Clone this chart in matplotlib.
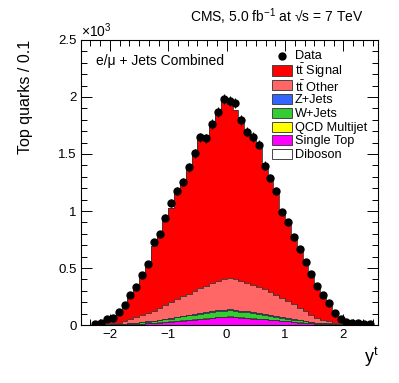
import matplotlib
matplotlib.use("Agg")
import matplotlib.pyplot as plt
from matplotlib.patches import Rectangle
from matplotlib.ticker import MultipleLocator, FuncFormatter
import numpy as np

plt.rcParams['font.family'] = ['Liberation Sans', 'DejaVu Sans']
plt.rcParams['mathtext.fontset'] = 'custom'
plt.rcParams['mathtext.rm'] = 'Liberation Sans'
plt.rcParams['mathtext.it'] = 'Liberation Sans:italic'

# top-quark rapidity, 50 bins of 0.1 from -2.5 to 2.5
edges = np.linspace(-2.5, 2.5, 51)
centers = 0.5 * (edges[1:] + edges[:-1])

data = [0, 0, 12, 15, 50, 62, 115, 175, 260, 335,
        437, 533, 728, 795, 940, 1071, 1173, 1252, 1383, 1505,
        1645, 1636, 1761, 1869, 1980, 1965, 1948, 1799, 1697, 1650,
        1581, 1397, 1290, 1179, 990, 902, 771, 670, 550, 451,
        340, 265, 195, 108, 50, 29, 20, 14, 9, 6]

tt_signal = [0, 0, 0, 1, 15, 30, 63, 125, 193, 262,
             345, 435, 565, 650, 745, 830, 930, 1015, 1115, 1200,
             1315, 1315, 1415, 1465, 1560, 1530, 1485, 1410, 1330, 1280,
             1225, 1085, 990, 885, 770, 680, 590, 510, 420, 350,
             275, 205, 138, 80, 35, 15, 3, 0, 0, 0]

tt_other = [0, 0, 0, 2, 6, 8, 12, 22, 35, 46,
            59, 73, 86, 105, 123, 139, 159, 174, 186, 202,
            220, 231, 244, 256, 265, 272, 273, 265, 251, 239,
            231, 220, 203, 188, 172, 152, 130, 108, 86, 62,
            43, 27, 18, 9, 4, 1, 0, 0, 0, 0]

z_jets = [0, 0, 0, 0, 0, 1, 1, 1, 1, 2,
          2, 2, 3, 3, 3, 4, 4, 5, 5, 6,
          6, 7, 7, 8, 8, 8, 8, 7, 7, 6,
          6, 5, 5, 4, 4, 3, 3, 2, 2, 2,
          1, 1, 1, 1, 0, 0, 0, 0, 0, 0]

w_jets = [0, 0, 0, 1, 2, 3, 4, 5, 7, 9,
          11, 13, 16, 19, 22, 26, 30, 34, 38, 42,
          45, 48, 50, 52, 53, 54, 52, 50, 48, 45,
          42, 38, 34, 30, 26, 22, 19, 16, 13, 11,
          9, 7, 5, 4, 3, 2, 1, 0, 0, 0]

qcd = [0, 0, 0, 0, 0, 0, 1, 1, 1, 1,
       1, 2, 2, 2, 2, 2, 3, 3, 3, 3,
       3, 3, 3, 3, 3, 3, 3, 3, 3, 3,
       3, 3, 3, 2, 2, 2, 2, 2, 1, 1,
       1, 1, 1, 1, 0, 0, 0, 0, 0, 0]

single_top = [0, 0, 0, 1, 2, 3, 4, 6, 8, 10,
              12, 15, 18, 21, 24, 28, 33, 38, 42, 46,
              50, 55, 60, 65, 70, 72, 68, 64, 60, 56,
              52, 48, 44, 40, 35, 30, 26, 22, 18, 14,
              11, 9, 7, 5, 3, 2, 1, 0, 0, 0]

diboson = [0, 0, 0, 0, 0, 0, 0, 0, 0, 0,
           0, 0, 0, 0, 1, 1, 1, 1, 1, 1,
           1, 1, 1, 1, 1, 1, 1, 1, 1, 1,
           1, 1, 1, 1, 1, 1, 0, 0, 0, 0,
           0, 0, 0, 0, 0, 0, 0, 0, 0, 0]

# bottom to top
stack = [("Diboson", diboson, "white"),
         ("Single Top", single_top, "#ff00ff"),
         ("QCD Multijet", qcd, "#ffff00"),
         ("W+Jets", w_jets, "#33cc33"),
         ("Z+Jets", z_jets, "#3366ff"),
         (r"t$\bar{\mathrm{t}}$ Other", tt_other, "#ff6666"),
         (r"t$\bar{\mathrm{t}}$ Signal", tt_signal, "#ff0000")]

fig = plt.figure(figsize=(3.99, 3.83), dpi=100)
ax = fig.add_axes([0.2023, 0.1514, 0.7463, 0.7442])

bottom = np.zeros(len(centers))
tops = []
for name, vals, col in stack:
    top = bottom + np.array(vals, dtype=float)
    ax.stairs(top, edges, baseline=bottom, fill=True, color=col, zorder=2)
    tops.append(top)
    bottom = top
for top in tops:
    ax.stairs(top, edges, baseline=0, color="#333333", lw=0.6, zorder=3)

d = np.array(data, dtype=float)
m = d > 0
ax.errorbar(centers[m], d[m], yerr=np.sqrt(d[m]), fmt='o', color='k',
            ms=5, elinewidth=0.8, capsize=0, zorder=5)

ax.set_xlim(-2.5, 2.6)
ax.set_ylim(0, 2500)
ax.xaxis.set_major_locator(MultipleLocator(1))
ax.xaxis.set_minor_locator(MultipleLocator(1 / 6))
ax.yaxis.set_major_locator(MultipleLocator(500))
ax.yaxis.set_minor_locator(MultipleLocator(100))
ax.yaxis.set_major_formatter(FuncFormatter(lambda v, p: "%g" % (v / 1000)))
ax.tick_params(which='both', direction='in', top=True, right=True, labelsize=9.5, width=0.7)
ax.tick_params(which='major', length=8, pad=3)
ax.tick_params(which='minor', length=4)
for s in ax.spines.values():
    s.set_linewidth(0.8)

ax.text(0.0, 1.0, "\u00d710$^{3}$", transform=ax.transAxes, ha='left', va='bottom', fontsize=10)
ax.set_ylabel("Top quarks / 0.1", fontsize=11.5, loc='top', labelpad=18)
ax.set_xlabel(r"y$^{\mathrm{t}}$", fontsize=13, loc='right', labelpad=3)
fig.text(0.91, 0.93, "CMS, 5.0 fb$^{-1}$ at \u221as = 7 TeV", ha='right', va='bottom', fontsize=10)
ax.text(0.05, 0.952, "e/μ + Jets Combined", transform=ax.transAxes, ha='left', va='top', fontsize=10)

# legend drawn by hand, ROOT-like rows
row_y = [0.944, 0.893, 0.843, 0.793, 0.745, 0.696, 0.648, 0.599]
text_dy = [0.0, 0.0, -0.009, -0.004, -0.004, -0.004, -0.004, -0.004]
box_x0, box_w, box_h = 0.641, 0.067, 0.036
txt_x = 0.719
ax.plot([0.675], [row_y[0]], 'o', color='k', ms=5, transform=ax.transAxes, clip_on=False, zorder=6)
ax.text(txt_x, row_y[0], "Data", transform=ax.transAxes, ha='left', va='center', fontsize=9.2)
for (name, vals, col), yy, dy in zip(reversed(stack), row_y[1:], text_dy[1:]):
    ax.add_patch(Rectangle((box_x0, yy - box_h / 2), box_w, box_h, transform=ax.transAxes,
                           facecolor=col, edgecolor="#444444", lw=0.7, zorder=6))
    ax.text(txt_x, yy + dy, name, transform=ax.transAxes, ha='left', va='center', fontsize=9.2)

fig.savefig("out.png", dpi=100)
